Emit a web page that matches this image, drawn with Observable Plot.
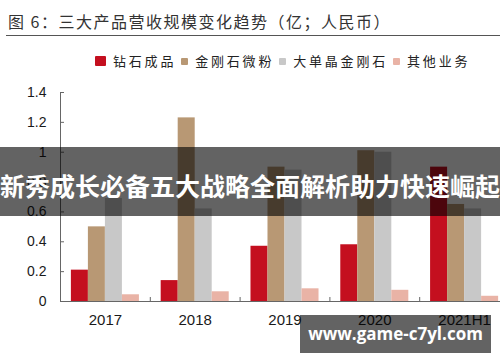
<!DOCTYPE html>
<html><head><meta charset="utf-8">
<script src="https://cdn.jsdelivr.net/npm/d3@7"></script>
<script src="https://cdn.jsdelivr.net/npm/@observablehq/plot@0.6"></script>
<style>
html,body{margin:0;padding:0;background:#fff;overflow:hidden}
#wrap{position:relative;width:500px;height:362px;overflow:hidden;font-family:"Noto Sans CJK SC","Noto Sans",sans-serif}
#title{position:absolute;left:8px;top:9px;font-size:16px;letter-spacing:1.5px;color:#333;white-space:nowrap;line-height:24px}
#rule{position:absolute;left:6px;right:0;top:35px;height:0;border-top:1px solid #555}
#legend{position:absolute;left:95px;top:50px;display:flex;align-items:center;font-size:13px;letter-spacing:2.8px;color:#222;white-space:nowrap;line-height:22px}
.sw{display:inline-block;margin-right:7px;border-radius:1px}
.lab{margin-right:5px}
.chart{position:absolute;left:0;top:75px}
#banner{position:absolute;left:0;top:147px;width:500px;height:69px;background:rgba(0,0,0,0.61)}
#banner span{position:absolute;left:0;width:500px;top:26px;color:#fff;font-weight:bold;font-size:25px;line-height:25px;text-align:center;white-space:nowrap}
#wm{position:absolute;left:300px;top:315px;width:191px;height:38px;background:rgba(0,0,0,0.61);color:#fff;font-weight:bold;font-size:17px;line-height:38px;text-align:center;font-family:"Open Sans",sans-serif;white-space:nowrap}
</style>
</head><body>
<div id="wrap">
  <div id="title">图 6：三大产品营收规模变化趋势（亿；人民币）</div>
  <div id="rule"></div>
  <div id="legend"></div>
  <div class="chart" id="axes"></div>
  <div class="chart" id="bars"></div>
  <div id="banner"><span>新秀成长必备五大战略全面解析助力快速崛起</span></div>
  <div id="wm">www.game-c7yl.com</div>
</div>
<script>
const years = ["2017", "2018", "2019", "2020", "2021H1"];
const series = ["钻石成品", "金刚石微粉", "大单晶金刚石", "其他业务"];
const diamondProducts = [0.21, 0.14, 0.37, 0.38, 0.90];
const diamondPowder = [0.50, 1.23, 0.90, 1.01, 0.65];
const singleCrystal = [0.69, 0.62, 0.88, 1.00, 0.62];
const otherBusiness = [0.045, 0.065, 0.085, 0.075, 0.035];
const yTicks = [0, 0.2, 0.4, 0.6, 0.8, 1.0, 1.2, 1.4];
const colors = ["#c40f1f", "#b89874", "#c8c8c8", "#e9b3a6"];

const values = [diamondProducts, diamondPowder, singleCrystal, otherBusiness];
const data = years.flatMap((yr, i) => series.map((s, j) => ({year: yr, series: s, value: values[j][i]})));

// legend
const legend = document.getElementById("legend");
series.forEach((s, j) => {
  const sw = document.createElement("span");
  sw.className = "sw";
  const big = j === 0;
  sw.style.width = (big ? 11 : 7) + "px";
  sw.style.height = (big ? 10 : 7) + "px";
  sw.style.background = colors[j];
  const lab = document.createElement("span");
  lab.className = "lab";
  lab.textContent = s;
  legend.appendChild(sw);
  legend.appendChild(lab);
});

const common = {width: 509, height: 287, marginLeft: 60, marginRight: 0, marginTop: 17, marginBottom: 61};
const axisColor = "#666";

const axes = Plot.plot({
  ...common,
  style: {maxWidth: "none", fontFamily: "'Liberation Sans', Arial, sans-serif", color: "#1a1a1a", background: "white"},
  x: {domain: [0, years.length]},
  y: {domain: [0, 1.4]},
  marks: [
    Plot.ruleY([0], {stroke: axisColor}),
    Plot.ruleX([0], {y1: 0, y2: 1.4, stroke: axisColor}),
    Plot.ruleY(yTicks, {x1: 0, x2: 0, insetRight: -4, stroke: axisColor}),
    Plot.ruleX(d3.range(1, years.length), {y1: 0, y2: 0, insetTop: -4, stroke: axisColor}),
    Plot.axisY(yTicks, {tickSize: 0, tickPadding: 14, tickFormat: d => String(+d.toFixed(1)), fontSize: 14, label: null}),
    Plot.axisX(years.map((d, i) => i + 0.5), {tickSize: 0, tickPadding: 13, tickFormat: v => years[v - 0.5], fontSize: 15, label: null})
  ]
});
document.getElementById("axes").appendChild(axes);

const bars = Plot.plot({
  ...common,
  style: {maxWidth: "none", background: "none"},
  fx: {domain: years, padding: 0, round: false, axis: null},
  x: {domain: series, paddingInner: 0, paddingOuter: 0.64, round: false, axis: null},
  y: {domain: [0, 1.4], axis: null},
  color: {domain: series, range: colors},
  marks: [
    Plot.barY(data, {fx: "year", x: "series", y: "value", fill: "series"})
  ]
});
document.getElementById("bars").appendChild(bars);
</script>
</body></html>
